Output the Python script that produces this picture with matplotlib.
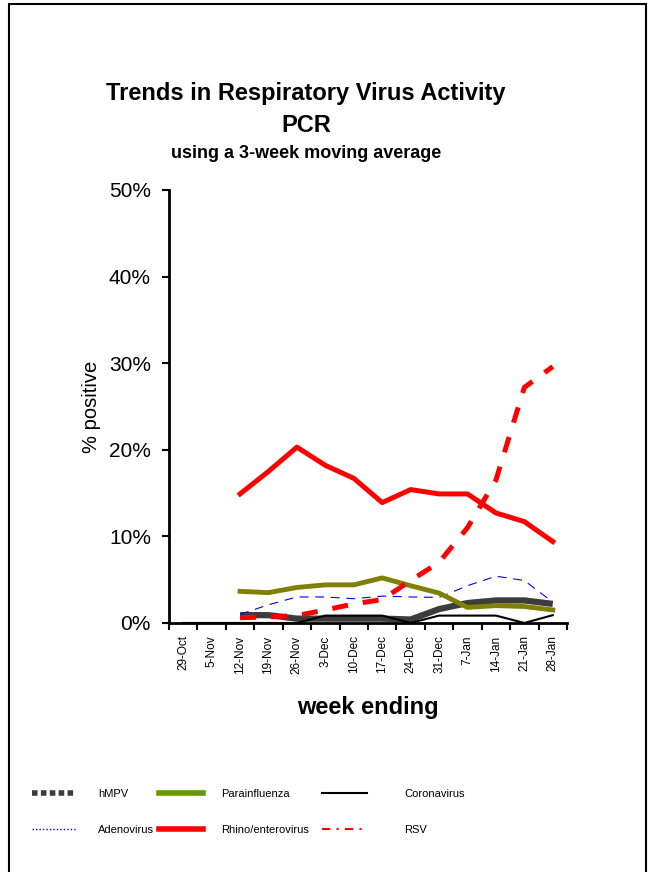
import numpy as np
import matplotlib
matplotlib.use("Agg")
import matplotlib.pyplot as plt
from matplotlib.lines import Line2D
from matplotlib.patches import Rectangle

plt.rcParams['font.family'] = ['Liberation Sans', 'DejaVu Sans']

# week ending labels
weeks = ['29-Oct', '5-Nov', '12-Nov', '19-Nov', '26-Nov', '3-Dec', '10-Dec',
         '17-Dec', '24-Dec', '31-Dec', '7-Jan', '14-Jan', '21-Jan', '28-Jan']

# % positive (3-week moving average), None = no data
hmpv = [None, None, 0.9, 0.9, 0.5, 0.5, 0.5, 0.5, 0.4, 1.6, 2.3, 2.6, 2.6, 2.2]
adeno = [None, None, 1.0, 2.1, 3.0, 3.0, 2.8, 3.1, 3.0, 2.95, 4.3, 5.4, 4.9, 2.4]
para = [None, None, 3.65, 3.5, 4.1, 4.4, 4.4, 5.2, 4.3, 3.45, 1.8, 2.0, 1.9, 1.5]
rhino = [None, None, 14.9, 17.5, 20.3, 18.2, 16.7, 13.9, 15.4, 14.9, 14.9, 12.7, 11.7, 9.4]
corona = [0, 0, 0, 0, 0, 0.85, 0.85, 0.85, 0.0, 0.85, 0.85, 0.85, 0.0, 0.9]
rsv = [None, None, 0.6, 0.7, 0.85, 1.5, 2.2, 2.7, 4.9, 7.0, 11.0, 16.5, 27.2, 29.6]


def arr(v):
    return np.array([np.nan if x is None else x for x in v], dtype=float)


fig = plt.figure(figsize=(6.48, 8.72), dpi=100)
fig.patches.append(Rectangle((0.0139, -0.05), 0.983, 1.0454, transform=fig.transFigure,
                             fill=False, edgecolor='black', linewidth=1.5))

ax = fig.add_axes([0.2608, 0.2856, 0.6142, 0.4966])
x = np.arange(len(weeks))

ax.plot(x, arr(hmpv), color='#3c3c3c', linewidth=4.5, solid_capstyle='butt', zorder=2)
ax.plot(x, arr(corona), color='black', linewidth=1.5, zorder=3)
ax.plot(x, arr(adeno), color='blue', linewidth=0.8, linestyle=(0, (8, 6)), zorder=3)
ax.plot(x, arr(para), color='#808000', linewidth=3.5, zorder=3)
ax.plot(x, arr(rhino), color='red', linewidth=3.6, zorder=4)
ax.plot(x, arr(rsv), color='red', linewidth=3.6, linestyle=(0, (3.2, 3)), zorder=4)

ax.set_xlim(-0.5, len(weeks) - 0.5)
ax.set_ylim(0, 50)
ax.set_yticks(np.arange(0, 51, 10))
ax.set_yticklabels(['%d%%' % v for v in range(0, 51, 10)], fontsize=15)
ax.set_xticks(x)
ax.set_xticklabels(weeks, rotation=90, fontsize=8.5)
ax.set_xticks(np.arange(-0.5, len(weeks)), minor=True)
ax.tick_params(axis='x', which='major', length=0, pad=9)
ax.tick_params(axis='x', which='minor', length=5, width=1.5, direction='out')
ax.tick_params(axis='y', length=5, width=1.5, direction='out', pad=8)

for s in ['top', 'right']:
    ax.spines[s].set_visible(False)
ax.spines['left'].set_linewidth(2)
ax.spines['bottom'].set_linewidth(2)

ax.set_ylabel('% positive', fontsize=14.5, labelpad=6)
ax.set_xlabel('week ending', fontsize=17, fontweight='bold', labelpad=16)

fig.text(0.472, 0.893, 'Trends in Respiratory Virus Activity', ha='center', va='center',
         fontsize=17, fontweight='bold')
fig.text(0.472, 0.856, 'PCR', ha='center', va='center', fontsize=17, fontweight='bold')
fig.text(0.472, 0.824, 'using a 3-week moving average', ha='center', va='center',
         fontsize=13, fontweight='bold')

# legend: three columns, each with its own spacing
columns = [
    (0.049, 2.0,
     [Line2D([], [], color='#3c3c3c', linewidth=4, linestyle=(0, (1, 0.6))),
      Line2D([], [], color='blue', linewidth=1, linestyle=(0, (1, 1.5)))],
     ['hMPV', 'Adenovirus']),
    (0.245, 1.6,
     [Line2D([], [], color='#669900', linewidth=4),
      Line2D([], [], color='red', linewidth=4)],
     ['Parainfluenza', 'Rhino/enterovirus']),
    (0.497, 3.4,
     [Line2D([], [], color='black', linewidth=1.5),
      Line2D([], [], color='red', linewidth=1.5, linestyle=(0, (4, 3, 1, 3)))],
     ['Coronavirus', 'RSV']),
]
for x0, pad, hs, ls in columns:
    fig.legend(hs, ls, loc='upper left', bbox_to_anchor=(x0, 0.095),
               frameon=False, fontsize=8, handlelength=4, handletextpad=pad,
               labelspacing=2.3, borderaxespad=0, borderpad=0)

fig.savefig('out.png', dpi=100)
